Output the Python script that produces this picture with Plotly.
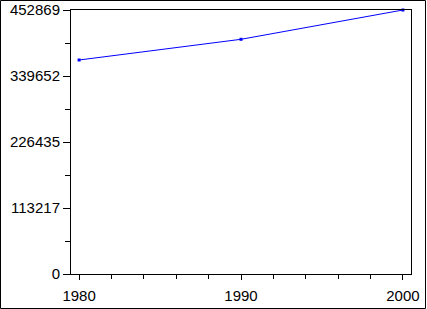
import plotly.graph_objects as go

years = [1980, 1990, 2000]
values = [367100, 402600, 452869]
y_ticks = [0, 113217, 226435, 339652, 452869]
y_minor = [56608.5, 169826, 283043.5, 396260.5]
x_ticks = [1980, 1990, 2000]

W, H = 427, 309
ML, MR, MT, MB = 71, 16, 10, 35
PW, PH = W - ML - MR, H - MT - MB

fig = go.Figure()
fig.add_trace(go.Scatter(
    x=years, y=values, mode="lines+markers",
    line=dict(color="#0000FF", width=1),
    marker=dict(color="#0000FF", size=3, symbol="square"),
    cliponaxis=False, showlegend=False,
))

font = dict(family="Liberation Sans, Arial, sans-serif", size=15, color="black")

fig.update_layout(
    width=W, height=H,
    margin=dict(l=ML, r=MR, t=MT, b=MB, autoexpand=False),
    paper_bgcolor="white", plot_bgcolor="white",
    font=font,
    xaxis=dict(
        range=[1979.5, 2000.5], tickmode="array", tickvals=x_ticks,
        ticktext=[str(v) for v in x_ticks], automargin=False,
        ticks="outside", ticklen=5, tickwidth=1, tickcolor="black",
        ticklabelstandoff=3,
        showline=True, linecolor="black", linewidth=1, mirror=True,
        showgrid=False, zeroline=False,
        minor=dict(tickmode="linear", tick0=1980, dtick=2, ticks="outside",
                   ticklen=4, tickwidth=1, tickcolor="black", showgrid=False),
        tickfont=font,
    ),
    yaxis=dict(
        range=[0, 452869], tickmode="array", tickvals=y_ticks,
        ticktext=[str(v) for v in y_ticks], automargin=False,
        ticks="outside", ticklen=7, tickwidth=1, tickcolor="black",
        showline=True, linecolor="black", linewidth=1, mirror=True,
        showgrid=False, zeroline=False,
        minor=dict(tickmode="array", tickvals=y_minor, ticks="outside",
                   ticklen=5, tickwidth=1, tickcolor="black", showgrid=False),
        tickfont=font,
    ),
)

def px_to_paper_x(p):
    return (p - ML) / PW

def px_to_paper_y(p):
    return (H - MB - p) / PH

fig.add_shape(type="rect", xref="paper", yref="paper",
              x0=px_to_paper_x(0.5), x1=px_to_paper_x(425.5),
              y0=px_to_paper_y(308.5), y1=px_to_paper_y(0.5),
              line=dict(color="black", width=1), fillcolor="rgba(0,0,0,0)",
              layer="above")

fig.write_html("out.html")
